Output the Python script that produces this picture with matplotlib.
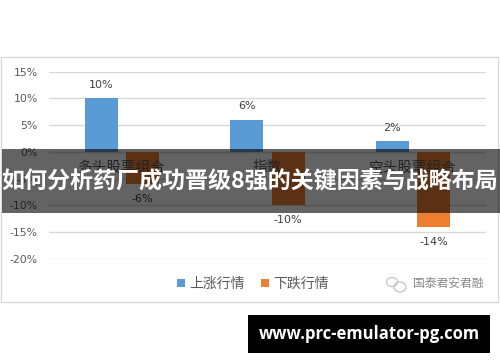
import matplotlib
matplotlib.use("Agg")
import matplotlib.pyplot as plt
import numpy as np
from matplotlib.patches import Rectangle, Ellipse
from matplotlib.transforms import IdentityTransform

plt.rcParams["font.family"] = ["DejaVu Sans", "Noto Sans CJK SC"]

BLUE = "#5b9bd5"
ORANGE = "#ed7d31"
GRID = "#d9d9d9"
TEXT = "#595959"

categories = ["多头股票组合", "指数", "空头股票组合"]
up_values = [10, 6, 2]
down_values = [-6, -10, -14]
series_names = ["上涨行情", "下跌行情"]
y_ticks = [15, 10, 5, 0, -5, -10, -15, -20]
title = "如何分析药厂成功晋级8强的关键因素与战略布局"
site = "www.prc-emulator-pg.com"
brand = "国泰君安君融"

W, H = 500, 362
fig = plt.figure(figsize=(W / 100, H / 100), dpi=100)
fig.patch.set_facecolor("white")


def fx(px):
    return px / W


def fy(py):
    return 1 - py / H


# outer chart frame
fig.add_artist(Rectangle((fx(1), fy(302)), fx(497), (302 - 57) / H, fill=False,
                         edgecolor=GRID, linewidth=1.0, zorder=0))

ax = fig.add_axes([fx(49), fy(259), fx(486) - fx(49), (259 - 71.5) / H])
ax.set_facecolor("none")
x = np.arange(len(categories))
width = 0.226
offset = 0.142
bars_up = ax.bar(x - offset, up_values, width, color=BLUE, label=series_names[0], zorder=2)
bars_down = ax.bar(x + offset, down_values, width, color=ORANGE, label=series_names[1], zorder=2)

for rect, value in zip(bars_up, up_values):
    ax.annotate(f"{value}%", (rect.get_x() + rect.get_width() / 2, value),
                xytext=(0, 6), textcoords="offset points", ha="center", va="bottom",
                fontsize=8, color="#404040")
for rect, value in zip(bars_down, down_values):
    ax.annotate(f"{value}%", (rect.get_x() + rect.get_width() / 2, value),
                xytext=(0, -7), textcoords="offset points", ha="center", va="top",
                fontsize=8, color="#404040")

for i, name in enumerate(categories):
    ax.text(i, -2.9, name, ha="center", va="center", fontsize=10.5, color=TEXT,
            family=["Noto Sans CJK SC"])

ax.set_xlim(-0.5, len(categories) - 0.5)
ax.set_ylim(-20, 15)
ax.set_yticks(y_ticks)
ax.set_yticklabels([f"{t}%" for t in y_ticks])
ax.tick_params(axis="y", length=0, pad=8, labelsize=7.8, labelcolor=TEXT)
ax.set_xticks([])
ax.grid(axis="y", color=GRID, linewidth=1.0, zorder=0)
ax.axhline(0, color=GRID, linewidth=1.0, zorder=1)
for spine in ax.spines.values():
    spine.set_visible(False)

fig.legend(handles=[bars_up, bars_down], labels=series_names, loc="center",
           bbox_to_anchor=(fx(253), fy(284)), ncol=2, frameon=False,
           prop={"family": "Noto Sans CJK SC", "size": 10}, labelcolor=TEXT,
           handlelength=0.55, handleheight=0.55, handletextpad=0.3, columnspacing=1.2)

# brand watermark
tr = IdentityTransform()
fig.add_artist(Ellipse((392, H - 282), 11, 9, fill=False, edgecolor="#c8c8c8",
                       linewidth=1.0, transform=tr, zorder=3))
fig.add_artist(Ellipse((400, H - 287), 12, 10, fill=False, edgecolor="#c8c8c8",
                       linewidth=1.0, transform=tr, zorder=3))
fig.text(fx(448), fy(283), brand, ha="center", va="center", fontsize=8.5,
         color="#8a8a8a", family=["Noto Sans CJK SC"])

# dark banner with title
fig.add_artist(Rectangle((fx(2), fy(213)), 1, (213 - 149) / H, facecolor="black",
                         alpha=0.61, edgecolor="none", zorder=5))
fig.text(0.5, fy(181), title, ha="center", va="center", fontsize=16.6,
         fontweight="bold", color="white", family=["Noto Sans CJK SC"], zorder=6)

# site box
fig.add_artist(Rectangle((fx(248), fy(353)), fx(490) - fx(248), (353 - 315) / H,
                         facecolor="black", edgecolor="none", zorder=5))
fig.text(fx(369), fy(334), site, ha="center", va="center", fontsize=12,
         fontweight="bold", color="white", family=["Open Sans"], zorder=6)

fig.savefig("out.png", dpi=100, facecolor="white")
